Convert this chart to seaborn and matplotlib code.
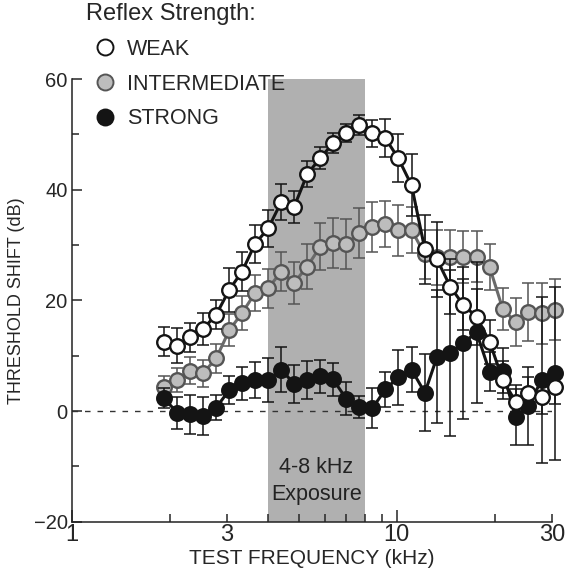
import matplotlib
matplotlib.use("Agg")
import numpy as np
import pandas as pd
import matplotlib.pyplot as plt
from matplotlib.lines import Line2D
from matplotlib.ticker import FixedLocator, FixedFormatter
import seaborn as sns

# ========== style ==========
sns.set_style("ticks")
plt.rcParams["font.family"] = ["Liberation Sans", "DejaVu Sans"]

# ========== data ==========
freq_khz = [1.92, 2.11, 2.31, 2.53, 2.78, 3.05, 3.34, 3.66, 4.02, 4.41,
            4.83, 5.30, 5.81, 6.37, 6.99, 7.66, 8.41, 9.22, 10.1, 11.1,
            12.2, 13.3, 14.6, 16.0, 17.6, 19.3, 21.2, 23.2, 25.4, 27.9, 30.6]

weak_db = [12.5, 11.8, 13.3, 14.8, 17.4, 21.9, 25.2, 30.2, 33.0, 37.8,
           36.9, 42.8, 45.7, 48.4, 50.2, 51.7, 50.2, 49.3, 45.7, 40.8,
           29.2, 27.4, 22.5, 19.2, 17.0, 12.5, 5.6, 1.7, 3.2, 2.6, 4.3]
weak_err = [2.6, 3.2, 2.6, 2.9, 2.6, 4.0, 3.6, 3.4, 3.3, 3.2,
            2.9, 2.4, 2.0, 1.8, 1.6, 1.8, 2.4, 3.4, 4.4, 5.6,
            6.2, 6.8, 5.0, 4.6, 5.0, 4.0, 3.5, 3.0, 3.0, 3.2, 3.0]

inter_db = [4.3, 5.6, 7.3, 6.8, 9.5, 14.6, 17.7, 21.3, 22.2, 25.2,
            23.2, 26.1, 29.7, 30.3, 30.2, 32.1, 33.3, 33.8, 32.7, 32.7,
            28.3, 27.8, 27.8, 27.8, 27.9, 26.0, 18.4, 16.1, 17.9, 17.7, 18.3]
inter_err = [2.0, 2.2, 2.5, 2.5, 2.7, 2.9, 3.0, 3.2, 3.5, 3.5,
             3.8, 4.0, 4.3, 4.5, 4.5, 4.5, 4.5, 4.2, 4.6, 4.2,
             4.5, 5.0, 5.0, 4.7, 4.6, 4.1, 3.8, 4.4, 5.2, 5.5, 5.5]

strong_db = [2.3, -0.3, -0.6, -0.9, 0.6, 3.8, 5.0, 5.6, 5.6, 7.5,
             4.9, 5.6, 6.3, 5.7, 2.2, 0.8, 0.5, 3.9, 6.1, 7.5,
             3.3, 9.8, 10.5, 12.3, 14.2, 7.1, 7.3, -1.1, 0.9, 5.6, 6.8]
strong_err = [1.8, 2.9, 3.5, 3.4, 2.3, 2.5, 3.0, 3.2, 3.9, 4.0,
              3.5, 3.5, 3.0, 3.0, 3.0, 2.0, 3.6, 3.1, 5.0, 4.0,
              7.0, 12.0, 15.0, 13.8, 12.8, 3.5, 4.0, 5.0, 7.0, 15.0, 15.7]

series_names = ["WEAK", "INTERMEDIATE", "STRONG"]

df = pd.DataFrame({
    "freq": freq_khz * 3,
    "shift": weak_db + inter_db + strong_db,
    "err": weak_err + inter_err + strong_err,
    "reflex": np.repeat(series_names, len(freq_khz)),
})

# per-series look: line colour, face, edge, errorbar colour, zorder
looks = {
    "INTERMEDIATE": dict(line="#6a6a6a", face="#bdbdbd", edge="#555555", ebar="#555555", z=2),
    "STRONG": dict(line="#141414", face="#141414", edge="#141414", ebar="#141414", z=4),
    "WEAK": dict(line="#141414", face="white", edge="#141414", ebar="#141414", z=6),
}

# ========== figure ==========
fig = plt.figure(figsize=(5.66, 5.84), dpi=100)
ax = fig.add_axes([0.127, 0.1067, 0.848, 0.758])

# exposure band + zero line
ax.axvspan(4, 8, color="#b0b0b0", lw=0, zorder=0)
ax.axhline(0, color="#333333", lw=1.0, ls=(0, (4, 5)), zorder=1)

for name in ["INTERMEDIATE", "STRONG", "WEAK"]:
    sub = df[df["reflex"] == name]
    lk = looks[name]
    eb = ax.errorbar(sub["freq"], sub["shift"], yerr=sub["err"], fmt="none",
                     ecolor=lk["ebar"], elinewidth=1.1, capsize=4, capthick=1.1,
                     zorder=lk["z"])
    for art in eb.lines[1] + eb.lines[2]:
        art.set_clip_on(False)
    sns.lineplot(data=sub, x="freq", y="shift", ax=ax, color=lk["line"],
                 lw=2.2, marker="o", ms=10.5, mfc=lk["face"], mec=lk["edge"],
                 mew=1.7, errorbar=None, legend=False, zorder=lk["z"] + 1,
                 clip_on=False)

# ========== axes ==========
ax.set_xscale("log")
ax.set_xlim(1, 30)
ax.set_ylim(-20, 60)

ax.xaxis.set_major_locator(FixedLocator([1, 10]))
ax.xaxis.set_major_formatter(FixedFormatter(["1", "10"]))
ax.xaxis.set_minor_locator(FixedLocator([2, 3, 4, 5, 6, 7, 8, 9, 20, 30]))
ax.xaxis.set_minor_formatter(FixedFormatter(["", "3", "", "", "", "", "", "", "", "30"]))

ax.set_yticks([-20, 0, 20, 40, 60])
ax.set_yticks([-10, 10, 30, 50], minor=True)

ax.tick_params(axis="x", which="major", direction="in", length=9, width=1.1,
               labelsize=17, pad=2)
ax.tick_params(axis="x", which="minor", direction="in", length=6, width=1.1,
               labelsize=17, pad=2)
ax.tick_params(axis="y", which="major", direction="in", length=7, width=1.1,
               labelsize=14.5, pad=3)
ax.tick_params(axis="y", which="minor", direction="in", length=5, width=1.1)

sns.despine(ax=ax)
for sp in ["left", "bottom"]:
    ax.spines[sp].set_linewidth(1.1)
    ax.spines[sp].set_color("#222222")

ax.set_xlabel("TEST FREQUENCY (kHz)", fontsize=15, labelpad=2)
ax.set_ylabel("THRESHOLD SHIFT (dB)", fontsize=13, labelpad=6)

ax.text(np.sqrt(4 * 8), -12.6, "4-8 kHz\nExposure", ha="center", va="center",
        fontsize=15.5, linespacing=1.35, color="#222222", zorder=1)

# ========== legend ==========
handles = []
for name in series_names:
    lk = looks[name]
    handles.append(Line2D([], [], ls="none", marker="o", ms=11.5, mfc=lk["face"],
                          mec=lk["edge"], mew=1.4))
leg = fig.legend(handles, series_names, title="Reflex Strength:",
                 loc="upper left", bbox_to_anchor=(86 / 566, 1 - 3 / 584),
                 frameon=False, fontsize=15.5, title_fontsize=17,
                 alignment="left", borderpad=0, borderaxespad=0,
                 handlelength=1.8, handletextpad=0.12, labelspacing=0.64)

fig.savefig("out.png", dpi=100)
